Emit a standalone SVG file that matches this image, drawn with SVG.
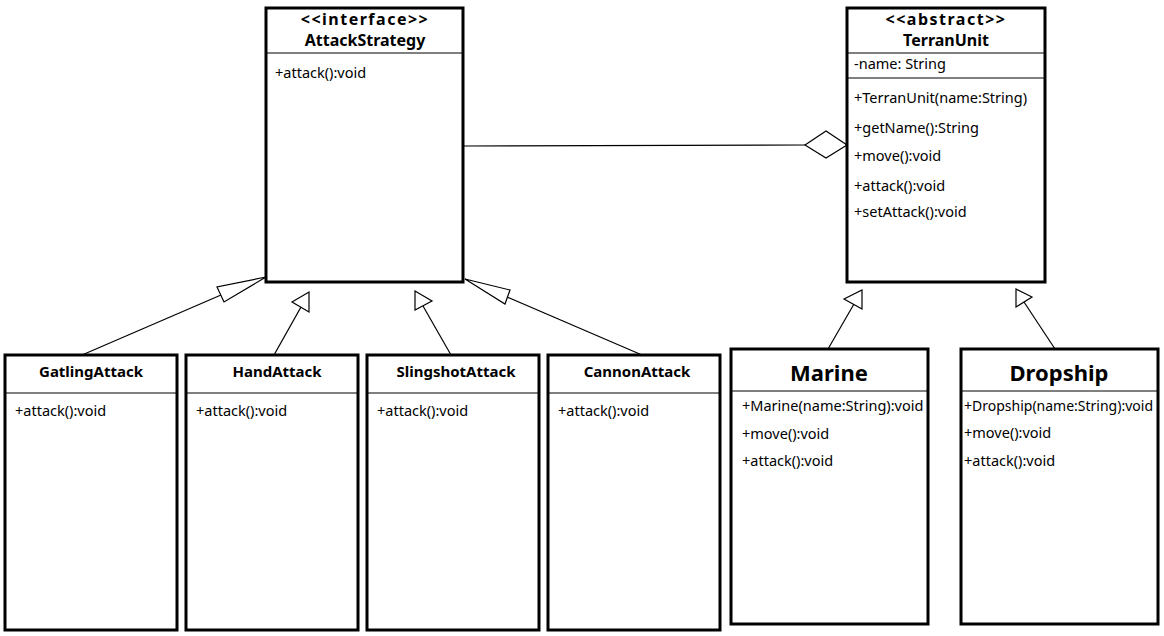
<svg xmlns="http://www.w3.org/2000/svg" width="1164" height="636" viewBox="0 0 1164 636">
<style>
  .box { fill: #fff; stroke: #000; stroke-width: 3; }
  .sep { stroke: #000; stroke-width: 1; }
  .t { font-family: "Noto Sans", "Open Sans", "Liberation Sans", sans-serif; font-size: 14.5px; fill: #000; }
  .title { font-family: "Noto Sans", "Open Sans", "Liberation Sans", sans-serif; font-size: 15px; font-weight: bold; fill: #000; text-anchor: middle; }
  .head1 { font-family: "Noto Sans", "Open Sans", "Liberation Sans", sans-serif; font-size: 16px; font-weight: bold; fill: #000; text-anchor: middle; }
  .big { font-family: "Noto Sans", "Open Sans", "Liberation Sans", sans-serif; font-size: 22px; font-weight: bold; fill: #000; text-anchor: middle; }
  .edge { stroke: #000; stroke-width: 1.2; fill: none; }
  .head { fill: #fff; stroke: #000; stroke-width: 1.2; stroke-linejoin: miter; }
</style>
<rect width="1164" height="636" fill="#fff"/>

<g id="connectors">
  <!-- aggregation -->
  <line class="edge" x1="463" y1="146" x2="805" y2="145"/>
  <polygon class="head" points="805,145 826,131 847,145 826,158"/>
  <!-- generalizations to AttackStrategy -->
  <line class="edge" x1="82" y1="355" x2="221" y2="295"/>
  <polygon class="head" points="266,277 217,287 224,302"/>
  <line class="edge" x1="274" y1="355" x2="301" y2="307"/>
  <polygon class="head" points="292,302 309,292 309,312"/>
  <line class="edge" x1="451" y1="355" x2="423" y2="306"/>
  <polygon class="head" points="415,291 432,301 415,310"/>
  <line class="edge" x1="642" y1="355" x2="507" y2="297"/>
  <polygon class="head" points="465,279 510,290 505,304"/>
  <!-- generalizations to TerranUnit -->
  <line class="edge" x1="828" y1="349" x2="854" y2="304"/>
  <polygon class="head" points="844,299 862,290 862,309"/>
  <line class="edge" x1="1055" y1="349" x2="1024" y2="302"/>
  <polygon class="head" points="1016,289 1032,297 1016,307"/>
</g>

<g id="AttackStrategy">
  <rect class="box" x="266" y="8" width="197" height="274"/>
  <line class="sep" x1="266" y1="53" x2="463" y2="53"/>
  <text class="head1" x="365" y="25" letter-spacing="1.5">&lt;&lt;interface&gt;&gt;</text>
  <text class="head1" x="365" y="46">AttackStrategy</text>
  <text class="t" x="275" y="78">+attack():void</text>
</g>

<g id="TerranUnit">
  <rect class="box" x="847" y="8" width="198" height="274"/>
  <line class="sep" x1="847" y1="53" x2="1045" y2="53"/>
  <line class="sep" x1="847" y1="78" x2="1045" y2="78"/>
  <text class="head1" x="946" y="25" letter-spacing="1.5">&lt;&lt;abstract&gt;&gt;</text>
  <text class="head1" x="946" y="46">TerranUnit</text>
  <text class="t" x="854" y="69">-name: String</text>
  <text class="t" x="854" y="103">+TerranUnit(name:String)</text>
  <text class="t" x="854" y="133">+getName():String</text>
  <text class="t" x="854" y="161">+move():void</text>
  <text class="t" x="854" y="191">+attack():void</text>
  <text class="t" x="854" y="217">+setAttack():void</text>
</g>

<g id="GatlingAttack">
  <rect class="box" x="5" y="355" width="172" height="275"/>
  <line class="sep" x1="5" y1="393" x2="177" y2="393"/>
  <text class="title" x="91" y="377">GatlingAttack</text>
  <text class="t" x="15" y="416">+attack():void</text>
</g>

<g id="HandAttack">
  <rect class="box" x="186" y="355" width="172" height="275"/>
  <line class="sep" x1="186" y1="393" x2="358" y2="393"/>
  <text class="title" x="277" y="377">HandAttack</text>
  <text class="t" x="196" y="416">+attack():void</text>
</g>

<g id="SlingshotAttack">
  <rect class="box" x="367" y="355" width="172" height="275"/>
  <line class="sep" x1="367" y1="393" x2="539" y2="393"/>
  <text class="title" x="456" y="377">SlingshotAttack</text>
  <text class="t" x="377" y="416">+attack():void</text>
</g>

<g id="CannonAttack">
  <rect class="box" x="548" y="355" width="172" height="275"/>
  <line class="sep" x1="548" y1="393" x2="720" y2="393"/>
  <text class="title" x="637" y="377">CannonAttack</text>
  <text class="t" x="558" y="416">+attack():void</text>
</g>

<g id="Marine">
  <rect class="box" x="731" y="349" width="197" height="275"/>
  <line class="sep" x1="731" y1="391" x2="928" y2="391"/>
  <text class="big" x="829" y="381">Marine</text>
  <text class="t" x="742" y="411">+Marine(name:String):void</text>
  <text class="t" x="742" y="439">+move():void</text>
  <text class="t" x="742" y="466">+attack():void</text>
</g>

<g id="Dropship">
  <rect class="box" x="961" y="349" width="197" height="275"/>
  <line class="sep" x1="961" y1="391" x2="1158" y2="391"/>
  <text class="big" x="1059" y="381">Dropship</text>
  <text class="t" x="964" y="411" style="font-size:14px">+Dropship(name:String):void</text>
  <text class="t" x="964" y="438">+move():void</text>
  <text class="t" x="964" y="466">+attack():void</text>
</g>
</svg>
